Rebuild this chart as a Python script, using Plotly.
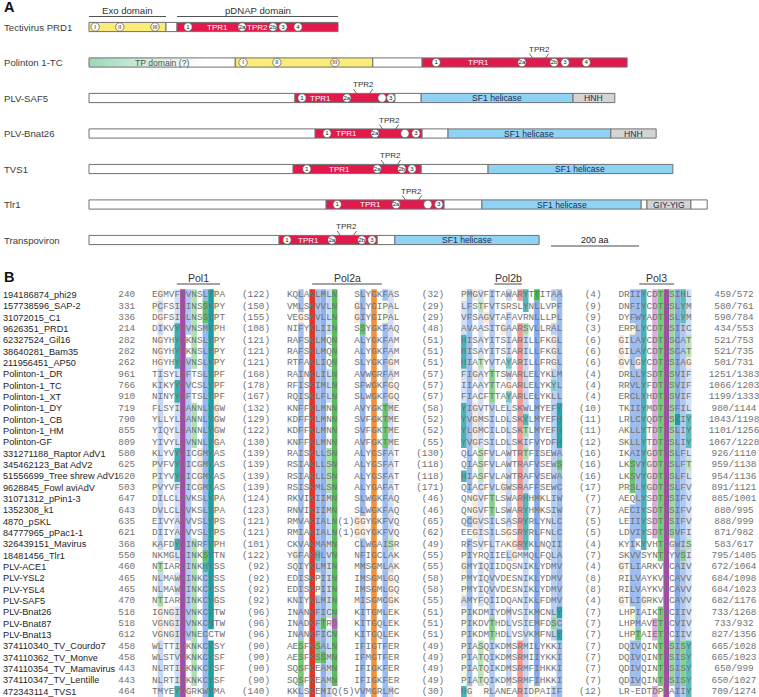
import plotly.graph_objects as go

W, H = 759, 697

# ======================= Panel A : domain architecture =======================
proteins = ["Tectivirus PRD1", "Polinton 1-TC", "PLV-SAF5", "PLV-Bnat26",
            "TVS1", "Tlr1", "Transpoviron"]

# domain segments (amino-acid coordinates)
seg_protein = [0, 0, 0,
               1, 1, 1, 1,
               2, 2, 2, 2, 2,
               3, 3, 3, 3, 3,
               4, 4, 4, 4,
               5, 5, 5, 5, 5, 5, 5,
               6, 6, 6, 6]
seg_start = [0, 175, 200,
             0, 332, 645, 757,
             0, 468, 695, 755, 1100,
             0, 514, 757, 816, 1186,
             0, 464, 755, 907,
             0, 539, 807, 893, 1255, 1268, 1368,
             0, 432, 655, 695]
seg_end = [175, 200, 566,
           332, 645, 757, 1223,
           468, 695, 755, 1100, 1195,
           514, 757, 816, 1186, 1289,
           464, 755, 907, 1327,
           539, 807, 893, 1255, 1268, 1368, 1405,
           432, 655, 695, 1023]
seg_kind = ["exo", "linker", "pol",
            "tp", "exo", "linker", "pol",
            "linker", "pol", "linker", "sf1", "hnh",
            "linker", "pol", "linker", "sf1", "hnh",
            "linker", "pol", "linker", "sf1",
            "linker", "pol", "linker", "sf1", "linker", "giy", "linker",
            "linker", "pol", "linker", "sf1"]
kind_label = {"tp": "TP domain (?)", "sf1": "SF1 helicase", "hnh": "HNH", "giy": "GIY-YIG"}

# conserved motifs (circles)
circ_protein = [0] * 8 + [1] * 8 + [2] * 4 + [3] * 4 + [4] * 4 + [5] * 4 + [6] * 4
circ_pos = [14, 70, 150, 225, 348, 418, 441, 475,
            350, 427, 559, 789, 984, 1057, 1082, 1130,
            484, 586, 666, 686,
            541, 650, 718, 743,
            495, 655, 711, 734,
            564, 698, 770, 795,
            450, 552, 620, 643]
circ_label = ["I", "II", "III", "1", "2a", "2b", "3", "4",
              "I", "II", "III", "1", "2a", "2b", "3", "4",
              "1", "2a", "", "3",
              "1", "2a", "", "3",
              "1", "2a", "2b", "3",
              "1", "2a", "", "3",
              "1", "2a", "2b", "3"]

tpr1_pos = [291, 886, 525, 586, 570, 639, 498]
tpr2_pos = [384, 1023, 623, 682, 686, 734, 586]
tpr2_inline = [True, False, False, False, False, False, False]

header_text = ["Exo domain", "pDNAP domain"]
header_start = [0, 200]
header_end = [175, 566]

scale_len = 200
scale_start = 1050

# ======================= Panel B : alignment =======================
seq_names = ["194186874_phi29", "157738596_SAP-2", "31072015_C1", "9626351_PRD1",
             "62327524_Gil16", "38640281_Bam35", "211956451_AP50", "Polinton-1_DR",
             "Polinton-1_TC", "Polinton-1_XT", "Polinton-1_DY", "Polinton-1_CB",
             "Polinton-1_HM", "Polinton-GF", "331271188_Raptor AdV1", "345462123_Bat AdV2",
             "51556699_Tree shrew AdV1", "9628845_Fowl aviAdV", "31071312_pPin1-3", "1352308_k1",
             "4870_pSKL", "84777965_pPac1-1", "326439151_Mavirus", "18481456_Tlr1",
             "PLV-ACE1", "PLV-YSL2", "PLV-YSL4", "PLV-SAF5",
             "PLV-Bnat26", "PLV-Bnat87", "PLV-Bnat13", "374110340_TV_Courdo7",
             "374110362_TV_Monve", "374110354_TV_Mamavirus", "374110347_TV_Lentille", "472343114_TVS1"]
seq_start = [240, 331, 336, 214, 282, 282, 262, 961, 766, 910, 719, 790, 855, 809,
             580, 625, 620, 503, 647, 643, 635, 621, 368, 550, 460, 465, 465, 470,
             518, 518, 612, 458, 458, 443, 443, 464]
pol1 = ["EGMVFDVNSLYPA", "PCFSIDINSSYPY", "DGFSIDLNSSYPT", "DIKVYDVNSMYPH",
        "NGYHYDKNSLYPY", "NGYHYDKNSLYPY", "HGYHYDVNSLYPY", "TISYLDFTSLYPF",
        "KIKYYDVCSLYPF", "NINYYDFTSLYPF", "FLSYIDANNLYGW", "YLLYLDANNLYGW",
        "YIQYLDANNLYGW", "YIVYLDVNNLYGA", "KLYVYDICGMYAS", "PVFVYDICGMYAS",
        "PIYVYDICGMYAS", "PVYVFDICGMYAS", "DILCLDVKSLYPA", "DVLCLDVKSLYPA",
        "EIVYADVVSLYPS", "DIIYADVVSLYPS", "KAFDYDINRFYPH", "NKMGLDINKSYTN",
        "NTIARDINKHYSS", "NLMAWDINKCYSS", "NLMAWDINKCYSS", "NTIARDINKCYGS",
        "IGNGIDVNKCYTW", "VGNGIDVNKCHTW", "VGNGIDVNECCTW", "WLTTIDKNKCYSY",
        "WLSTVDKNKCYSF", "NLRTIDKNKCYSF", "NLRTIDKNKCYSF", "TMYEYDGRKWYMA"]
gap1 = [122, 150, 155, 108, 121, 121, 121, 168, 178, 167, 132, 129, 122, 130,
        139, 139, 139, 139, 124, 123, 121, 121, 101, 122, 92, 92, 92, 92,
        96, 96, 96, 90, 90, 90, 90, 140]
pol2a_a = ["KQLAKLMLN", "VMLSKVVLN", "VEGSKVLLN", "NIFYKLIIN", "RAFSKLMQN", "RAFSKLMQN",
           "RTFAKLIQN", "RAINKLILN", "RFISKIMLN", "RQISKLFLN", "KNFFKLMNN", "KDFFKLMNN",
           "KDFFKLMNN", "KNFFKLMNN", "RAISKLLSN", "RSIAKLLSN", "RSIAKLLSN", "RSISKMLSN",
           "RKVIKIIMN", "RNVIKIIMN", "RMVAKIALN", "RMIAKIALN", "CKVAKMAMN", "YGFAKHLVN",
           "SQIYKLMIN", "EDISKPIIN", "EDISKPIIN", "KNIYKLMIN", "INANKFICN", "INADKFTRD",
           "INANKFICN", "AESFKSALN", "AESFKSSMN", "SQSFKEAMN", "SQSFKEAMN", "KKLSKEMIQ"]
ins2a = [0] * 20 + [1, 1] + [0] * 13 + [5]
pol2a_b = ["SLYGKFAS", "GLYGIPAL", "GIYGIPAL", "SSYGKFAQ", "ALYGKFAM", "ALYGKFAM",
           "SLYGKFGM", "AVWGRFAM", "SFWGKFGQ", "SLWGKFGQ", "AVYGKTME", "SVFGKTME",
           "SVFGKTME", "AVFGKTME", "ALYGSFAT", "ALYGSFAT", "ALYGSFAT", "ALYGAFAT",
           "SLWGKFAQ", "SLWGKFAQ", "GGYGKFVQ", "GGYGKFVQ", "CLWGAISR", "NFIGCLAK",
           "MMSGMLAK", "IMSGMLGQ", "IMSGMLGQ", "MISGMCGK", "KITGMLEK", "KITGQLEK",
           "KITGQLEK", "IFIGTFER", "IFMGTFER", "IFIGKFER", "IFIGKFER", "VVMGRLMC"]
gap2 = [32, 29, 29, 48, 51, 51, 51, 57, 57, 57, 58, 52, 52, 55, 130, 118, 118, 171,
        46, 46, 65, 62, 49, 55, 55, 58, 58, 55, 51, 51, 51, 49, 49, 49, 49, 30]
pol2b = ["PMGVFITAWARYTTITAA", "LFSTFVTSRSLYNLLVPF", "VFSAGVTAFAVRNLLLPL", "AVAASITGAARSVLLRAL",
         "HISAYITSIARILLFKGL", "HISAYITSIARILLFKGL", "HIATYVTAYARILLFRGL", "FIGAYTTSWARLELYKLM",
         "IIAAYTTAGARLELYKYL", "FIACFTTAYARLELYKLL", "YIGVTVLELSKWLMYEFY", "YVGMSILDLSKYLMYEFH",
         "YLGMCILDLSKTLMYEFH", "YVGFSILDLSKIFVYDFH", "QLASFVLAWTRTFISEWA", "QIASFVLAWTRAFVSEWS",
         "HIASFVLAWTRAFVSEWA", "QIACFVLGWSRAFFSEWC", "QNGVFTLSWARHHMKLIW", "QNGVFTLSWARYHMKSIW",
         "QCGVSILSASRYRLYNLC", "EEGISILSGSRYRLFNLC", "RFSVFLTAKGRYKLNQII", "PIYRQIIELGMMQLFQLA",
         "GMYIQIIDQSNIKLYDMV", "PMYIQVVDESNIKLYDMV", "PMYIQVVDESNIKLYDMV", "AMYFQIIDQANIKLFDMV",
         "PIKDMIYDMVSIKMCNLY", "PIKDVTHDLVSIEMFDSC", "PIKDMTHDLVSVKMFNLY", "PIASQIKDMSRMILYKKI",
         "PIATQIKDMSRMIIYKKI", "PIATQIKDMSRMFIHKKI", "PIATQIKDMSRMFIHKKI", "HG  RLANEARIDPAIIF"]
gap3 = [4, 9, 9, 3, 6, 6, 6, 4, 4, 4, 10, 11, 11, 12, 16, 16, 16, 17, 7, 7, 5, 5, 4, 7,
        4, 8, 8, 4, 7, 7, 7, 7, 7, 7, 7, 12]
pol3 = ["DRIIYCDTDSIHL", "DNFIYCDTDSLYM", "DYFWYADTDSLYM", "ERPLYCDTDSIIC",
        "GILAYCDTDSCAT", "GILAYCDTDSCAT", "GVLGYCDTDSIAG", "DRLLYSDTDSVIF",
        "RRVLYFDTDSVIF", "ERCLYHDTDSVIF", "TKIIYMDTDSFIL", "LRLCYQDTDSYIY",
        "AKLLYTDTDSLIY", "SKLLYTDTDSLIY", "IKAIYGDTDSLFL", "LKSVYGDTDSLFT",
        "LKSVYGDTDSLFL", "PRSLYGDTDSLFV", "AEQLYSDTDSIFV", "AECIYSDTDSIFV",
        "LEIIYSDTDSIFV", "LDVIYSDTDSVFI", "KYIKYVHTDGWIS", "SKVVSYNTDYVSI",
        "GTLIARKVDCAIV", "RILVAYKVDCAVV", "RILVAYKVDCAVV", "GTLIGRKVDCAVV",
        "LHPIAIKTDCIIV", "LHPMAVETDCVIV", "LHPTAIETDCIIV", "DQIVQINTDSISY",
        "DQIVQINTDSISY", "QDIVQINTDSISY", "QDIVQINTDSISY", "LR-EDTDPDAIIY"]
seq_end = ["459/572", "580/761", "590/784", "434/553", "521/753", "521/735", "501/731",
           "1251/1383", "1066/1203", "1199/1333", "980/1144", "1043/1198", "1101/1256",
           "1067/1228", "926/1110", "959/1138", "954/1136", "891/1121", "885/1001",
           "880/995", "888/999", "871/982", "583/617", "795/1405", "672/1064",
           "684/1098", "684/1023", "682/1176", "733/1268", "733/932", "827/1356",
           "665/1028", "665/1023", "650/999", "650/1027", "709/1274"]

motif_names = ["Pol1", "Pol2a", "Pol2b", "Pol3"]
motif_col_start = [4.4, 28.5, 60.9, 86.7]
motif_col_end = [12.1, 40.9, 65.8, 92.9]

# ======================= geometry (pixel mapping) =======================
A_X0, A_SC = 89.0, 0.44      # px of aa 0, px per aa
A_Y0, A_DY = 27.0, 35.5      # px of first protein row, row spacing
B_X0, B_CW = 152.0, 5.62     # px of alignment column 0, char width
B_Y0, B_DY = 295.0, 11.33    # px of first alignment row, row spacing
BAR_H = 4.6 / A_DY           # half bar height in row units

# alignment column offsets of each block (monospace grid)
C_POL1, C_G1END, C_P2A, C_INS, C_P2B_, C_G2END, C_P2B, C_G3END, C_P3, C_END = \
    0, 21, 24, 33, 36, 52, 55, 80, 83, 103.56

FONT = "Liberation Sans"
MONO = "Liberation Mono"
MONO_SIZE = B_CW / 0.6

fig = go.Figure()
shapes = []
annotations = []

KIND_FILL = {"exo": "#f9ec78", "pol": "#e21a4c", "linker": "#ffffff",
             "sf1": "#8fd3f4", "hnh": "#d4d4d4", "giy": "#d4d4d4", "tp": "rgba(0,0,0,0)"}

# ---- TP gradient (heatmap) ----
for k, kind in enumerate(seg_kind):
    if kind == "tp":
        r = seg_protein[k]
        n = 60
        edges = [seg_start[k] + (seg_end[k] - seg_start[k]) * i / n for i in range(n + 1)]
        fig.add_trace(go.Heatmap(
            x=edges, y=[r - BAR_H, r + BAR_H], z=[[i / (n - 1) for i in range(n)]],
            colorscale=[[0, "#9dd8b8"], [0.45, "#d8efe2"], [0.8, "#ffffff"], [1, "#ffffff"]],
            showscale=False, hoverinfo="skip", xaxis="x", yaxis="y", zsmooth=False))

# ---- bars ----
for k, kind in enumerate(seg_kind):
    r = seg_protein[k]
    shapes.append(dict(type="rect", xref="x", yref="y",
                       x0=seg_start[k], x1=seg_end[k], y0=r - BAR_H, y1=r + BAR_H,
                       fillcolor=KIND_FILL[kind], line=dict(color="#707070", width=1),
                       layer="above" if kind == "tp" else "below"))
    if kind in kind_label:
        annotations.append(dict(xref="x", yref="y", x=(seg_start[k] + seg_end[k]) / 2, y=r,
                                text=kind_label[kind], showarrow=False,
                                font=dict(family=FONT, size=8.6,
                                          color="#555555" if kind == "tp" else "#1d2f55"),
                                xanchor="center", yanchor="middle"))

# protein names
for r, name in enumerate(proteins):
    annotations.append(dict(xref="paper", yref="y", x=2 / W, y=r, text=name, showarrow=False,
                            font=dict(family=FONT, size=9.6, color="#3c3c3c"),
                            xanchor="left", yanchor="middle"))

# domain headers
for t, s, e in zip(header_text, header_start, header_end):
    yl = (16.5 - A_Y0) / A_DY
    shapes.append(dict(type="line", xref="x", yref="y", x0=s, x1=e, y0=yl, y1=yl,
                       line=dict(color="#404040", width=0.9)))
    annotations.append(dict(xref="x", yref="y", x=(s + e) / 2, y=(10.5 - A_Y0) / A_DY, text=t,
                            showarrow=False, font=dict(family=FONT, size=9.6, color="#333333"),
                            xanchor="center", yanchor="middle"))

# TPR labels
for r in range(len(proteins)):
    annotations.append(dict(xref="x", yref="y", x=tpr1_pos[r], y=r, text="TPR1", showarrow=False,
                            font=dict(family=FONT, size=8, color="white"),
                            xanchor="center", yanchor="middle"))
    if tpr2_inline[r]:
        annotations.append(dict(xref="x", yref="y", x=tpr2_pos[r], y=r, text="TPR2", showarrow=False,
                                font=dict(family=FONT, size=8, color="white"),
                                xanchor="center", yanchor="middle"))
    else:
        cx = tpr2_pos[r]
        annotations.append(dict(xref="x", yref="y", x=cx, y=r - 13.5 / A_DY, text="TPR2",
                                showarrow=False, font=dict(family=FONT, size=8, color="#333333"),
                                xanchor="center", yanchor="middle"))
        for sgn in (-1, 1):
            shapes.append(dict(type="line", xref="x", yref="y",
                               x0=cx + sgn * 22, y0=r - 9.0 / A_DY,
                               x1=cx + sgn * 15, y1=r - 4.6 / A_DY,
                               line=dict(color="#444444", width=0.8)))

# motif circles
fig.add_trace(go.Scatter(
    x=circ_pos, y=circ_protein, mode="markers+text", xaxis="x", yaxis="y",
    marker=dict(size=8.4, color="white", line=dict(color="#555555", width=0.7)),
    text=circ_label, textposition="middle center",
    textfont=dict(family=FONT, size=6.2, color="#222222"), hoverinfo="skip"))

# scale bar
ys = 6 + 6.0 / A_DY
shapes.append(dict(type="line", xref="x", yref="y", x0=scale_start, x1=scale_start + scale_len,
                   y0=ys, y1=ys, line=dict(color="#333333", width=0.9)))
annotations.append(dict(xref="x", yref="y", x=scale_start + scale_len / 2, y=6 - 0.5 / A_DY,
                        text=f"{scale_len} aa", showarrow=False,
                        font=dict(family=FONT, size=9, color="#222222"),
                        xanchor="center", yanchor="middle"))

# panel letters
for letter, py in (("A", 7), ("B", 277)):
    annotations.append(dict(xref="paper", yref="paper", x=2 / W, y=1 - py / H, text=f"<b>{letter}</b>",
                            showarrow=False, font=dict(family=FONT, size=14.5, color="#111111"),
                            xanchor="left", yanchor="middle"))

# ======================= alignment colouring (Clustal X rules) =======================
BASE = {"blue": (125, 165, 232), "red": (228, 52, 40), "magenta": (168, 72, 170),
        "green": (58, 178, 62), "pink": (236, 128, 150), "orange": (240, 146, 60),
        "yellow": (222, 222, 70), "cyan": (24, 160, 164)}


def col_stats(chars):
    res = [c for c in chars if c.isalpha()]
    n = max(len(res), 1)

    def fr(s):
        return sum(c in s for c in res) / n
    st = {"hyd": fr("WLVIMAFCHP"), "kr": fr("KR"), "de": fr("DE"), "qe": fr("QE"),
          "ts": fr("TS"), "arom": fr("WYACPQFHILMV")}
    for a in "ACDEFGHIKLMNPQRSTVWY":
        st[a] = fr(a)
    return st


def clustal(aa, st):
    hyd = st["hyd"]
    if aa in "AILMFWV":
        if hyd > 0.6:
            return "blue", hyd
    elif aa == "C":
        if hyd > 0.6:
            return "blue", hyd
        if st["C"] > 0.85:
            return "pink", st["C"]
    elif aa in "KR":
        if st["kr"] > 0.6:
            return "red", st["kr"]
        if max(st["K"], st["R"], st["Q"]) > 0.8:
            return "red", max(st["K"], st["R"], st["Q"])
    elif aa == "E":
        if st["kr"] > 0.6:
            return "red", st["kr"]
        if st["qe"] > 0.5 or st["de"] > 0.5:
            return "magenta", max(st["qe"], st["de"])
    elif aa == "D":
        if st["de"] > 0.5 or st["N"] > 0.5:
            return "magenta", max(st["de"], st["N"])
    elif aa == "N":
        if st["N"] > 0.5 or st["D"] > 0.85:
            return "green", max(st["N"], st["D"])
    elif aa == "Q":
        if st["kr"] > 0.6 or st["qe"] > 0.5:
            return "green", max(st["kr"], st["qe"])
    elif aa in "ST":
        if hyd > 0.6 or st["ts"] > 0.5:
            return "green", max(hyd, st["ts"])
    elif aa == "G":
        return "orange", st["G"]
    elif aa == "P":
        return "yellow", st["P"]
    elif aa in "HY":
        if hyd > 0.6 or st["arom"] > 0.85:
            return "cyan", max(hyd, st["arom"])
    return None


def shade(name, f):
    a = 0.22 if f <= 0.5 else 0.22 + 0.76 * min(1.0, (f - 0.5) / 0.5) ** 1.3
    a = round(a * 20) / 20
    b = BASE[name]
    return "#%02x%02x%02x" % tuple(int(round(255 * (1 - a) + c * a)) for c in b)


blocks = [(pol1, C_POL1), (pol2a_a, C_P2A), (pol2a_b, C_P2B_), (pol2b, C_P2B), (pol3, C_P3)]
nrow = len(seq_names)
cell = {}
for seqs, c0 in blocks:
    for j in range(len(seqs[0])):
        chars = [s[j] for s in seqs]
        st = col_stats(chars)
        for i, ch in enumerate(chars):
            res = clustal(ch, st) if ch.isalpha() else None
            if res:
                cell[(c0 + j, i)] = shade(*res)

# merge vertical runs and group by colour
groups = {}
cols = sorted(set(c for c, _ in cell))
for c in cols:
    i = 0
    while i < nrow:
        colr = cell.get((c, i))
        if colr is None:
            i += 1
            continue
        j = i
        while j + 1 < nrow and cell.get((c, j + 1)) == colr:
            j += 1
        xs, ys = groups.setdefault(colr, ([], []))
        y0, y1 = i - 0.5, j + 0.5
        xs += [c, c + 1, c + 1, c, c, None]
        ys += [y0, y0, y1, y1, y0, None]
        i = j + 1

for colr, (xs, ys) in groups.items():
    fig.add_trace(go.Scatter(x=xs, y=ys, mode="none", fill="toself", fillcolor=colr,
                             xaxis="x2", yaxis="y2", hoverinfo="skip"))

# ======================= alignment text =======================
tx, ty, tt = [], [], []


def put(s, left_col, row):
    for k, ch in enumerate(s):
        if ch != " ":
            tx.append(left_col + k + 0.5)
            ty.append(row)
            tt.append(ch)


for i in range(nrow):
    s = str(seq_start[i])
    put(s, -3 - len(s), i)
    put(pol1[i], C_POL1, i)
    s = f"({gap1[i]})"
    put(s, C_G1END - len(s), i)
    put(pol2a_a[i], C_P2A, i)
    if ins2a[i]:
        put(f"({ins2a[i]})", C_INS, i)
    put(pol2a_b[i], C_P2B_, i)
    s = f"({gap2[i]})"
    put(s, C_G2END - len(s), i)
    put(pol2b[i], C_P2B, i)
    s = f"({gap3[i]})"
    put(s, C_G3END - len(s), i)
    put(pol3[i], C_P3, i)
    put(seq_end[i], C_END - len(seq_end[i]) / 2, i)

fig.add_trace(go.Scatter(x=tx, y=ty, text=tt, mode="text", xaxis="x2", yaxis="y2",
                         textposition="middle center",
                         textfont=dict(family=MONO, size=MONO_SIZE, color="#727272"),
                         hoverinfo="skip"))

for i, name in enumerate(seq_names):
    annotations.append(dict(xref="paper", yref="y2", x=0.5 / W, y=i, text=name, showarrow=False,
                            font=dict(family=FONT, size=9.2, color="#1e1e1e"),
                            xanchor="left", yanchor="middle"))

# motif headers
for nm, s, e in zip(motif_names, motif_col_start, motif_col_end):
    yl = (284 - B_Y0) / B_DY
    shapes.append(dict(type="line", xref="x2", yref="y2", x0=s, x1=e, y0=yl, y1=yl,
                       line=dict(color="#333333", width=0.9)))
    annotations.append(dict(xref="x2", yref="y2", x=(s + e) / 2, y=(277.5 - B_Y0) / B_DY, text=nm,
                            showarrow=False, font=dict(family=FONT, size=10.5, color="#333333"),
                            xanchor="center", yanchor="middle"))

fig.update_layout(
    width=W, height=H, margin=dict(l=0, r=0, t=0, b=0),
    paper_bgcolor="white", plot_bgcolor="white", showlegend=False, hovermode=False,
    xaxis=dict(range=[-A_X0 / A_SC, (W - A_X0) / A_SC], visible=False, fixedrange=True),
    yaxis=dict(range=[(H - A_Y0) / A_DY, -A_Y0 / A_DY], visible=False, fixedrange=True),
    xaxis2=dict(range=[-B_X0 / B_CW, (W - B_X0) / B_CW], visible=False, overlaying="x",
                anchor="y2", fixedrange=True),
    yaxis2=dict(range=[(H - B_Y0) / B_DY, -B_Y0 / B_DY], visible=False, overlaying="y",
                anchor="x2", fixedrange=True),
    shapes=shapes, annotations=annotations,
)

fig.write_html("out.html", config={"displayModeBar": False},
               post_script="document.body.style.margin='0';document.body.style.overflow='hidden';")
